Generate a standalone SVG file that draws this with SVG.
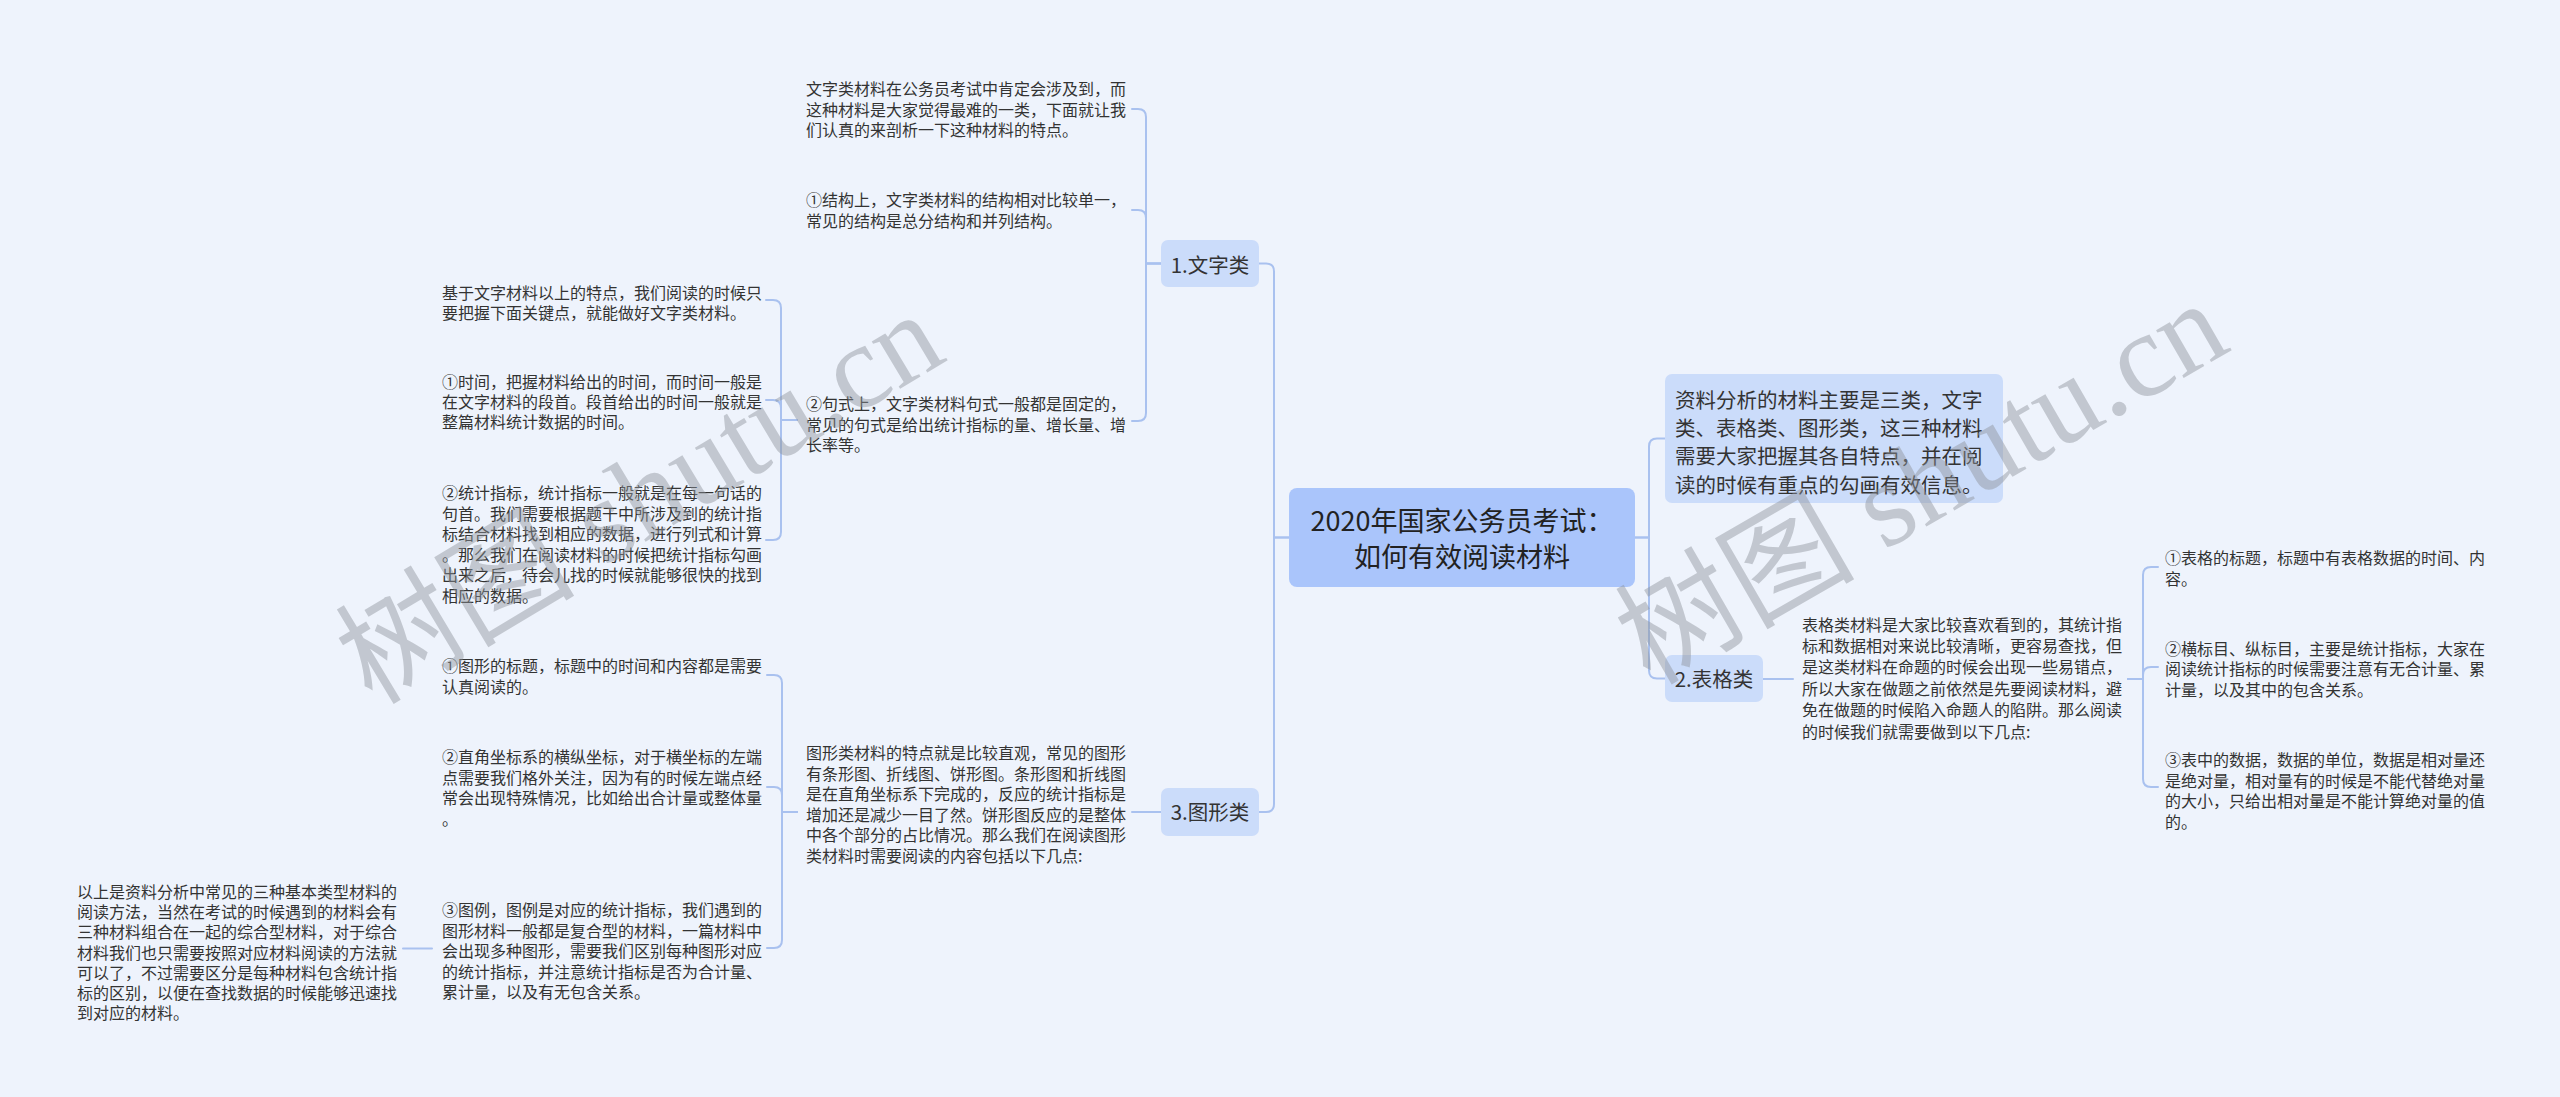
<svg xmlns="http://www.w3.org/2000/svg" width="2560" height="1097" viewBox="0 0 2560 1097">
<style>
.t{font-family:"Noto Sans CJK SC","Noto Sans",sans-serif;font-size:16px;fill:#333333}
.l1{font-family:"Noto Sans CJK SC","Noto Sans",sans-serif;font-size:20.5px;fill:#333333}
.root{font-family:"Noto Sans CJK SC","Noto Sans",sans-serif;font-size:27px;fill:#222222}
.b1{fill:#cbdcfa}
.b0{fill:#aac5fb}
.c{fill:none;stroke:#a9c1ef;stroke-width:2;stroke-linecap:round}
.wm{font-family:"Liberation Serif","Noto Sans CJK SC",serif;font-size:120px;fill:#8e939b;opacity:0.45}
</style>
<rect width="2560" height="1097" fill="#eef3fc"/>

<g id="connectors">
<path class="c" d="M1289,537.5 H1274 V271.5 Q1274,263.5 1266,263.5 H1259"/>
<path class="c" d="M1289,537.5 H1274 V804 Q1274,812 1266,812 H1259"/>
<path class="c" d="M1161,263.5 H1146 V117 Q1146,109 1138,109 H1132"/>
<path class="c" d="M1161,263.5 H1146 V218 Q1146,210 1138,210 H1132"/>
<path class="c" d="M1161,263.5 H1146 V413 Q1146,421 1138,421 H1132"/>
<path class="c" d="M797,420 H781 V308 Q781,300 773,300 H766"/>
<path class="c" d="M797,420 H781 V408 Q781,400 773,400 H766"/>
<path class="c" d="M797,420 H781 V532 Q781,540 773,540 H766"/>
<path class="c" d="M1161,812 H1132"/>
<path class="c" d="M797,812 H782 V683 Q782,675 774,675 H767"/>
<path class="c" d="M797,812 H782 V795 Q782,787 774,787 H767"/>
<path class="c" d="M797,812 H782 V940 Q782,948 774,948 H767"/>
<path class="c" d="M432,948.5 H403"/>
<path class="c" d="M1635,537.5 H1649 V446.5 Q1649,438.5 1657,438.5 H1665"/>
<path class="c" d="M1635,537.5 H1649 V670.5 Q1649,678.5 1657,678.5 H1665"/>
<path class="c" d="M1763,679 H1793"/>
<path class="c" d="M2128,679 H2143 V575 Q2143,567 2151,567 H2158"/>
<path class="c" d="M2128,679 H2143 V675 Q2143,667 2151,667 H2158"/>
<path class="c" d="M2128,679 H2143 V779 Q2143,787 2151,787 H2158"/>
</g>

<g id="root">
<rect class="b0" x="1289" y="488" width="346" height="99" rx="8"/>
<text class="root" text-anchor="middle"><tspan x="1462" y="531">2020年国家公务员考试：</tspan><tspan x="1462" y="567">如何有效阅读材料</tspan></text>
</g>

<g id="node-wenzi">
<rect class="b1" x="1161" y="240" width="98" height="47" rx="7"/>
<text class="l1" x="1210" y="272.5" text-anchor="middle">1.文字类</text>
</g>

<g id="node-tuxing">
<rect class="b1" x="1161" y="788" width="98" height="48" rx="7"/>
<text class="l1" x="1210" y="819.5" text-anchor="middle">3.图形类</text>
</g>

<g id="node-biaoge">
<rect class="b1" x="1665" y="655" width="98" height="47" rx="7"/>
<text class="l1" x="1714" y="686.5" text-anchor="middle">2.表格类</text>
</g>

<g id="node-intro">
<rect class="b1" x="1665" y="374" width="338" height="129" rx="7"/>
<text class="l1"><tspan x="1675" y="407.5">资料分析的材料主要是三类，文字</tspan><tspan x="1675" y="436">类、表格类、图形类，这三种材料</tspan><tspan x="1675" y="464.3">需要大家把握其各自特点，并在阅</tspan><tspan x="1675" y="492.6">读的时候有重点的勾画有效信息。</tspan></text>
</g>

<g id="text-a">
<text class="t"><tspan x="806" y="95">文字类材料在公务员考试中肯定会涉及到，而</tspan><tspan x="806" dy="20.5">这种材料是大家觉得最难的一类，下面就让我</tspan><tspan x="806" dy="20.5">们认真的来剖析一下这种材料的特点。</tspan></text>
</g>

<g id="text-b">
<text class="t"><tspan x="806" y="206">①结构上，文字类材料的结构相对比较单一，</tspan><tspan x="806" dy="21">常见的结构是总分结构和并列结构。</tspan></text>
</g>

<g id="text-c">
<text class="t"><tspan x="806" y="410">②句式上，文字类材料句式一般都是固定的，</tspan><tspan x="806" dy="20.5">常见的句式是给出统计指标的量、增长量、增</tspan><tspan x="806" dy="20.5">长率等。</tspan></text>
</g>

<g id="text-d">
<text class="t"><tspan x="442" y="299">基于文字材料以上的特点，我们阅读的时候只</tspan><tspan x="442" dy="20">要把握下面关键点，就能做好文字类材料。</tspan></text>
</g>

<g id="text-e">
<text class="t"><tspan x="442" y="388">①时间，把握材料给出的时间，而时间一般是</tspan><tspan x="442" dy="20">在文字材料的段首。段首给出的时间一般就是</tspan><tspan x="442" dy="20">整篇材料统计数据的时间。</tspan></text>
</g>

<g id="text-f">
<text class="t"><tspan x="442" y="499">②统计指标，统计指标一般就是在每一句话的</tspan><tspan x="442" dy="20.5">句首。我们需要根据题干中所涉及到的统计指</tspan><tspan x="442" dy="20.5">标结合材料找到相应的数据，进行列式和计算</tspan><tspan x="442" dy="20.5">。那么我们在阅读材料的时候把统计指标勾画</tspan><tspan x="442" dy="20.5">出来之后，待会儿找的时候就能够很快的找到</tspan><tspan x="442" dy="20.5">相应的数据。</tspan></text>
</g>

<g id="text-g">
<text class="t"><tspan x="806" y="759">图形类材料的特点就是比较直观，常见的图形</tspan><tspan x="806" dy="20.5">有条形图、折线图、饼形图。条形图和折线图</tspan><tspan x="806" dy="20.5">是在直角坐标系下完成的，反应的统计指标是</tspan><tspan x="806" dy="20.5">增加还是减少一目了然。饼形图反应的是整体</tspan><tspan x="806" dy="20.5">中各个部分的占比情况。那么我们在阅读图形</tspan><tspan x="806" dy="20.5">类材料时需要阅读的内容包括以下几点:</tspan></text>
</g>

<g id="text-h">
<text class="t"><tspan x="442" y="672">①图形的标题，标题中的时间和内容都是需要</tspan><tspan x="442" dy="20.5">认真阅读的。</tspan></text>
</g>

<g id="text-i">
<text class="t"><tspan x="442" y="763">②直角坐标系的横纵坐标，对于横坐标的左端</tspan><tspan x="442" dy="20.5">点需要我们格外关注，因为有的时候左端点经</tspan><tspan x="442" dy="20.5">常会出现特殊情况，比如给出合计量或整体量</tspan><tspan x="442" dy="20.5">。</tspan></text>
</g>

<g id="text-j">
<text class="t"><tspan x="442" y="916">③图例，图例是对应的统计指标，我们遇到的</tspan><tspan x="442" dy="20.5">图形材料一般都是复合型的材料，一篇材料中</tspan><tspan x="442" dy="20.5">会出现多种图形，需要我们区别每种图形对应</tspan><tspan x="442" dy="20.5">的统计指标，并注意统计指标是否为合计量、</tspan><tspan x="442" dy="20.5">累计量，以及有无包含关系。</tspan></text>
</g>

<g id="text-k">
<text class="t"><tspan x="77" y="898">以上是资料分析中常见的三种基本类型材料的</tspan><tspan x="77" dy="20.2">阅读方法，当然在考试的时候遇到的材料会有</tspan><tspan x="77" dy="20.2">三种材料组合在一起的综合型材料，对于综合</tspan><tspan x="77" dy="20.2">材料我们也只需要按照对应材料阅读的方法就</tspan><tspan x="77" dy="20.2">可以了，不过需要区分是每种材料包含统计指</tspan><tspan x="77" dy="20.2">标的区别，以便在查找数据的时候能够迅速找</tspan><tspan x="77" dy="20.2">到对应的材料。</tspan></text>
</g>

<g id="text-l">
<text class="t"><tspan x="1802" y="630.5">表格类材料是大家比较喜欢看到的，其统计指</tspan><tspan x="1802" dy="21.4">标和数据相对来说比较清晰，更容易查找，但</tspan><tspan x="1802" dy="21.4">是这类材料在命题的时候会出现一些易错点，</tspan><tspan x="1802" dy="21.4">所以大家在做题之前依然是先要阅读材料，避</tspan><tspan x="1802" dy="21.4">免在做题的时候陷入命题人的陷阱。那么阅读</tspan><tspan x="1802" dy="21.4">的时候我们就需要做到以下几点:</tspan></text>
</g>

<g id="text-r1">
<text class="t"><tspan x="2165" y="564">①表格的标题，标题中有表格数据的时间、内</tspan><tspan x="2165" dy="21">容。</tspan></text>
</g>

<g id="text-r2">
<text class="t"><tspan x="2165" y="654.5">②横标目、纵标目，主要是统计指标，大家在</tspan><tspan x="2165" dy="20.7">阅读统计指标的时候需要注意有无合计量、累</tspan><tspan x="2165" dy="20.7">计量，以及其中的包含关系。</tspan></text>
</g>

<g id="text-r3">
<text class="t"><tspan x="2165" y="766">③表中的数据，数据的单位，数据是相对量还</tspan><tspan x="2165" dy="20.6">是绝对量，相对量有的时候是不能代替绝对量</tspan><tspan x="2165" dy="20.6">的大小，只给出相对量是不能计算绝对量的值</tspan><tspan x="2165" dy="20.6">的。</tspan></text>
</g>

<g id="watermarks">
<text class="wm" transform="translate(372,706) rotate(-31)">树图 shutu.cn</text>
<text class="wm" transform="translate(1650,686) rotate(-30)">树图 shutu.cn</text>
</g>
</svg>
